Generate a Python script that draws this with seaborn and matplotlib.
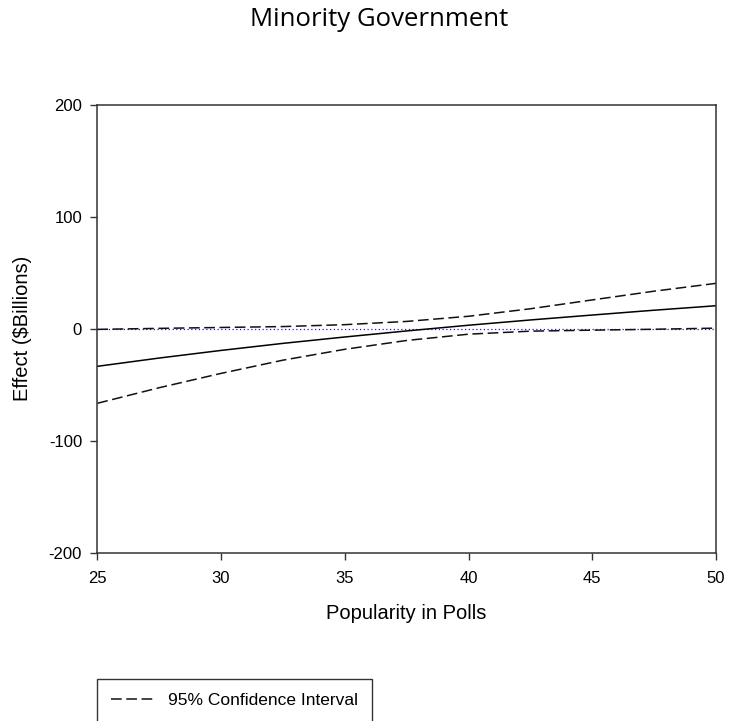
import matplotlib
matplotlib.use("Agg")
import numpy as np
import pandas as pd
import matplotlib.pyplot as plt
import seaborn as sns

# values
popularity = [25, 27.5, 30, 32.5, 35, 37.5, 40, 42.5, 45, 47.5, 50]
effect = [-33.6, -26.2, -19.4, -13.1, -7.4, -2.0, 3.1, 7.8, 12.2, 16.5, 20.5]
ci_upper = [-0.6, 0.3, 1.1, 1.9, 3.6, 6.5, 11.1, 17.8, 25.7, 33.5, 40.5]
ci_lower = [-66.6, -52.7, -39.9, -28.1, -18.4, -10.5, -4.9, -2.2, -1.3, -0.5, 0.5]
zero_x = [25, 50]
zero_y = [0, 0]

y_ticks = [-200, -100, 0, 100, 200]
x_ticks = [25, 30, 35, 40, 45, 50]

df = pd.DataFrame({'Popularity': popularity, 'Effect': effect,
                   'Upper': ci_upper, 'Lower': ci_lower})

sns.set_style('ticks')
plt.rcParams['font.family'] = ['Liberation Sans', 'DejaVu Sans']
plt.rcParams['axes.unicode_minus'] = False
plt.rcParams['text.color'] = 'black'
plt.rcParams['axes.labelcolor'] = 'black'

W, H = 729, 721
fig = plt.figure(figsize=(W / 100, H / 100), dpi=100)
ax = fig.add_axes([97.3 / W, 1 - 552.7 / H, (716 - 97.3) / W, (552.7 - 104.7) / H])

# zero reference line
sns.lineplot(x=zero_x, y=zero_y, ax=ax, color='#2020c0', linewidth=0.9,
             linestyle=(0, (1, 2)))
# effect and confidence interval
sns.lineplot(data=df, x='Popularity', y='Effect', ax=ax, color='black', linewidth=1.1)
dash = (0, (7, 3))
sns.lineplot(data=df, x='Popularity', y='Upper', ax=ax, color='#111111',
             linewidth=1.1, linestyle=dash)
sns.lineplot(data=df, x='Popularity', y='Lower', ax=ax, color='#111111',
             linewidth=1.1, linestyle=dash)

ax.set_xlim(25, 50)
ax.set_ylim(-200, 200)
ax.set_xticks(x_ticks)
ax.set_yticks(y_ticks)
ax.set_xticklabels([str(t) for t in x_ticks])
ax.set_yticklabels([str(t) for t in y_ticks])
ax.tick_params(direction='out', length=5, width=1, labelsize=12, pad=6,
               color='#333333', labelcolor='black')
ax.tick_params(axis='x', pad=8)
for s in ax.spines.values():
    s.set_visible(True)
    s.set_color('#333333')
    s.set_linewidth(1.1)

ax.set_xlabel('Popularity in Polls', fontsize=14.5)
ax.set_ylabel('Effect ($Billions)', fontsize=14.5)
ax.xaxis.set_label_coords(0.5, -0.115)
ax.yaxis.set_label_coords(-0.106, 0.5)

fig.text(378.7 / W, 1 - 20 / H, 'Minority Government', ha='center', va='center',
         fontsize=18.5, family=['Open Sans', 'DejaVu Sans'])

# legend only lists the confidence band
handle = ax.lines[2]
leg = ax.legend([handle], ['95% Confidence Interval'], loc='upper left',
                bbox_to_anchor=(97.3 / W, 1 - 679 / H), bbox_transform=fig.transFigure,
                borderaxespad=0, fontsize=12.5, frameon=True, fancybox=False,
                edgecolor='black', handlelength=2.5, handletextpad=0.8,
                borderpad=0.8)
leg.get_frame().set_linewidth(1.0)

fig.savefig('out.png', dpi=100)
